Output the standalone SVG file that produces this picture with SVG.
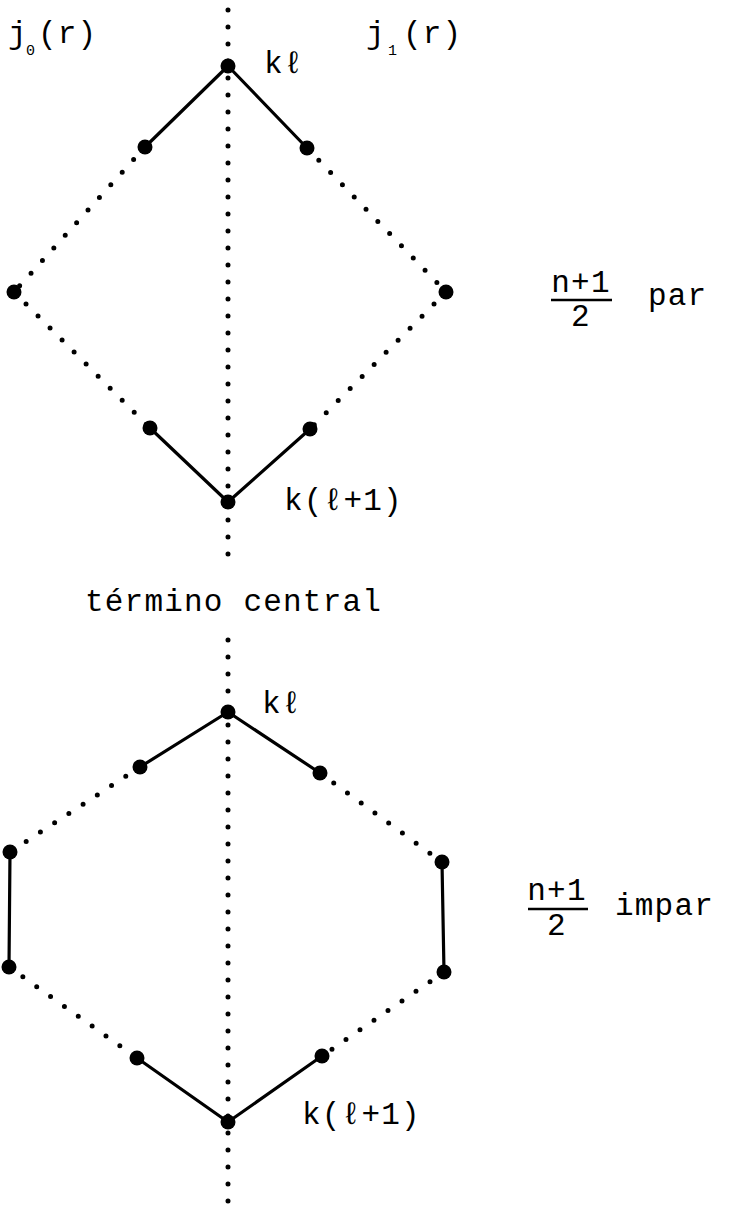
<svg xmlns="http://www.w3.org/2000/svg" width="729" height="1214" viewBox="0 0 729 1214">
<style>
text{font-family:"Liberation Mono","DejaVu Sans Mono",monospace;font-size:31px;letter-spacing:1.2px;fill:#000}
.sub{font-size:15px;letter-spacing:0}
.dot{fill:none;stroke:#000;stroke-width:5;stroke-linecap:round;stroke-dasharray:0 17}
.solid{fill:none;stroke:#000;stroke-width:3.2;stroke-linecap:round}
.node{fill:#000}
</style>
<rect width="729" height="1214" fill="#fff"/>
<g id="connectors">
<line class="dot" x1="228" y1="10" x2="228" y2="570"/>
<line class="dot" x1="228" y1="640" x2="228" y2="1210"/>
<line class="solid" x1="228" y1="66" x2="145" y2="147"/>
<line class="solid" x1="228" y1="66" x2="307" y2="148"/>
<line class="dot" x1="145" y1="147" x2="14" y2="292"/>
<line class="dot" x1="307" y1="148" x2="446" y2="292"/>
<line class="dot" x1="14" y1="292" x2="150" y2="428"/>
<line class="dot" x1="446" y1="292" x2="310" y2="429"/>
<line class="solid" x1="150" y1="428" x2="228" y2="502"/>
<line class="solid" x1="310" y1="429" x2="228" y2="502"/>
<line class="solid" x1="228" y1="712" x2="140" y2="767"/>
<line class="solid" x1="228" y1="712" x2="320" y2="773"/>
<line class="dot" x1="140" y1="767" x2="10" y2="852"/>
<line class="dot" x1="320" y1="773" x2="442" y2="862"/>
<line class="solid" x1="10" y1="852" x2="9" y2="967"/>
<line class="solid" x1="442" y1="862" x2="444" y2="972"/>
<line class="dot" x1="9" y1="967" x2="137" y2="1058"/>
<line class="dot" x1="444" y1="972" x2="322" y2="1056"/>
<line class="solid" x1="137" y1="1058" x2="228" y2="1122"/>
<line class="solid" x1="322" y1="1056" x2="228" y2="1122"/>
</g>
<g id="diamond-top"><circle class="node" cx="228" cy="66" r="7.5"/></g>
<g id="diamond-ul"><circle class="node" cx="145" cy="147" r="7.5"/></g>
<g id="diamond-ur"><circle class="node" cx="307" cy="148" r="7.5"/></g>
<g id="diamond-l"><circle class="node" cx="14" cy="292" r="7.5"/></g>
<g id="diamond-r"><circle class="node" cx="446" cy="292" r="7.5"/></g>
<g id="diamond-ll"><circle class="node" cx="150" cy="428" r="7.5"/></g>
<g id="diamond-lr"><circle class="node" cx="310" cy="429" r="7.5"/></g>
<g id="diamond-bottom"><circle class="node" cx="228" cy="502" r="7.5"/></g>
<g id="hex-top"><circle class="node" cx="228" cy="712" r="7.5"/></g>
<g id="hex-ul"><circle class="node" cx="140" cy="767" r="7.5"/></g>
<g id="hex-ur"><circle class="node" cx="320" cy="773" r="7.5"/></g>
<g id="hex-lt"><circle class="node" cx="10" cy="852" r="7.5"/></g>
<g id="hex-rt"><circle class="node" cx="442" cy="862" r="7.5"/></g>
<g id="hex-lb"><circle class="node" cx="9" cy="967" r="7.5"/></g>
<g id="hex-rb"><circle class="node" cx="444" cy="972" r="7.5"/></g>
<g id="hex-ll"><circle class="node" cx="137" cy="1058" r="7.5"/></g>
<g id="hex-lr"><circle class="node" cx="322" cy="1056" r="7.5"/></g>
<g id="hex-bottom"><circle class="node" cx="228" cy="1122" r="7.5"/></g>
<g id="labels">
<text x="8" y="43">j</text><text class="sub" x="26" y="55">0</text><text x="38" y="43">(r)</text>
<text x="366" y="43">j</text><text class="sub" x="388" y="55">1</text><text x="403" y="43">(r)</text>
<text x="264" y="73">kℓ</text>
<text x="284" y="510">k(ℓ+1)</text>
<text x="85" y="611">término central</text>
<text x="262" y="713">kℓ</text>
<text x="302" y="1124">k(ℓ+1)</text>
<text x="581" y="292" text-anchor="middle">n+1</text>
<line x1="551" y1="300" x2="612" y2="300" stroke="#000" stroke-width="2.5"/>
<text x="581" y="326" text-anchor="middle">2</text>
<text x="648" y="305">par</text>
<text x="557" y="900" text-anchor="middle">n+1</text>
<line x1="528" y1="909" x2="588" y2="909" stroke="#000" stroke-width="2.5"/>
<text x="557" y="935" text-anchor="middle">2</text>
<text x="615" y="915">impar</text>
</g>
</svg>
